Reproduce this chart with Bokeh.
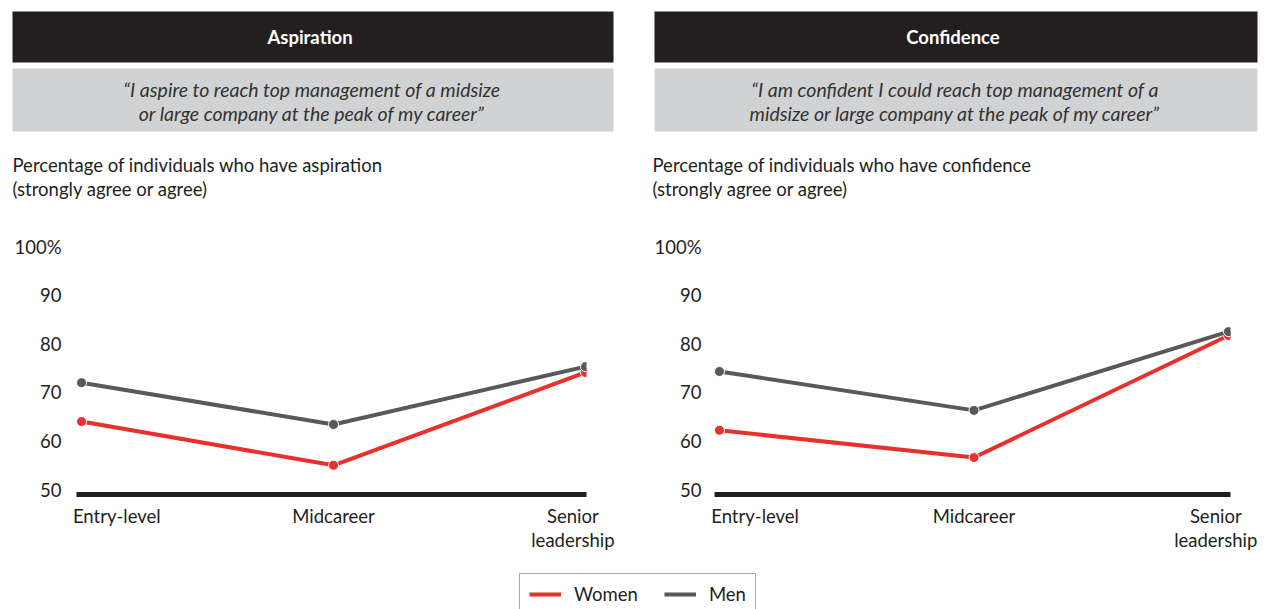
from bokeh.plotting import figure
from bokeh.layouts import column, row
from bokeh.models import Range1d, FixedTicker, Legend, LegendItem
from bokeh.core.properties import value
from bokeh.embed import file_html
from bokeh.resources import INLINE

# ---------------- data ----------------
categories = ["Entry-level", "Midcareer", "Senior\nleadership"]
series_names = ["Women", "Men"]
aspiration_women = [64.0, 55.0, 74.1]
aspiration_men = [72.0, 63.4, 75.3]
confidence_women = [62.2, 56.6, 81.7]
confidence_men = [74.3, 66.3, 82.5]
y_ticks = [50, 60, 70, 80, 90, 100]
y_tick_labels = ["50", "60", "70", "80", "90", "100%"]
panel_titles = ["Aspiration", "Confidence"]
panel_quotes = [
    ["\u201cI aspire to reach top management of a midsize",
     "or large company at the peak of my career\u201d"],
    ["\u201cI am confident I could reach top management of a",
     "midsize or large company at the peak of my career\u201d"],
]
panel_subtitles = [
    ["Percentage of individuals who have aspiration", "(strongly agree or agree)"],
    ["Percentage of individuals who have confidence", "(strongly agree or agree)"],
]

# ---------------- style ----------------
FONT = "Lato"
BLACK = "#231f20"
RED = "#e8302c"
GRAY = "#58595b"
QUOTE_BG = "#d1d2d4"
TXT = "18.5px"
QTXT = "19.5px"

W = 1262
H_HEAD = 220
H_CHART = 352
H_LEG = 37

# ---------------- header strip ----------------
head = figure(width=W, height=H_HEAD, x_range=Range1d(0, W), y_range=Range1d(H_HEAD, 0),
              output_backend="svg", toolbar_location=None, x_axis_type=None, y_axis_type=None,
              min_border=0, outline_line_color=None)
panel_left = [12, 654]
panel_right = [613, 1257]
centers = [(a + b) / 2 for a, b in zip(panel_left, panel_right)]
head.quad(left=panel_left, right=panel_right, top=[11, 11], bottom=[62, 62],
          fill_color=BLACK, line_color=None)
head.quad(left=panel_left, right=panel_right, top=[68, 68], bottom=[131, 131],
          fill_color=QUOTE_BG, line_color=None)
head.text(x=[c - 3 for c in centers], y=[36, 36], text=panel_titles, text_align="center",
          text_baseline="middle", text_color="white", text_font=value(FONT),
          text_font_style="bold", text_font_size=TXT)
qx, qy, qt = [], [], []
for c, lines in zip(centers, panel_quotes):
    for k, ln in enumerate(lines):
        qx.append(c - 1); qy.append(89 + 24 * k); qt.append(ln)
head.text(x=qx, y=qy, text=qt, text_align="center", text_baseline="middle",
          text_color="#333333", text_font=value(FONT), text_font_style="italic",
          text_font_size=QTXT)
sx, sy, st = [], [], []
for lft, lines in zip([12, 652], panel_subtitles):
    for k, ln in enumerate(lines):
        sx.append(lft); sy.append(164 + 24 * k); st.append(ln)
head.text(x=sx, y=sy, text=st, text_align="left", text_baseline="middle",
          text_color=BLACK, text_font=value(FONT), text_font_size=TXT)

# ---------------- charts ----------------
x_pos = list(range(len(categories)))
label_shift = [0.14, 0.0, -0.05]


def make_chart(width, b_left, b_right, x_start, x_end, women, men, y_standoff):
    p = figure(width=width, height=H_CHART, x_range=Range1d(x_start, x_end),
               y_range=Range1d(49.0, 103.3), output_backend="svg", toolbar_location=None,
               min_border_left=b_left, min_border_right=b_right, min_border_top=10,
               min_border_bottom=78, outline_line_color=None)
    p.grid.visible = False
    xa = p.xaxis[0]
    ticks = [i + s for i, s in zip(x_pos, label_shift)]
    xa.ticker = FixedTicker(ticks=ticks)
    xa.major_label_overrides = dict(zip(ticks, categories))
    xa.axis_line_width = 5
    xa.axis_line_color = BLACK
    xa.major_tick_line_color = None
    xa.minor_tick_line_color = None
    xa.major_label_standoff = 4
    xa.major_label_text_font = FONT
    xa.major_label_text_font_size = TXT
    xa.major_label_text_color = BLACK
    xa.major_label_text_line_height = 1.1
    ya = p.yaxis[0]
    ya.ticker = FixedTicker(ticks=y_ticks)
    ya.major_label_overrides = dict(zip(y_ticks, y_tick_labels))
    ya.axis_line_color = None
    ya.major_tick_line_color = None
    ya.minor_tick_line_color = None
    ya.major_label_standoff = y_standoff
    ya.major_label_text_font = FONT
    ya.major_label_text_font_size = TXT
    ya.major_label_text_color = BLACK
    for vals, col in ((women, RED), (men, GRAY)):
        p.line(x_pos, vals, line_color=col, line_width=4)
        p.scatter(x_pos, vals, size=10, fill_color=col, line_color="white", line_width=1)
    return p


f1 = make_chart(648, 76, 62, -0.02, 2.004, aspiration_women, aspiration_men, 9)
f2 = make_chart(614, 66, 32, -0.0196, 2.0079, confidence_women, confidence_men, 7)

# ---------------- legend strip ----------------
leg = figure(width=W, height=H_LEG, x_range=Range1d(-1, 0), y_range=Range1d(0, 1),
             output_backend="svg", toolbar_location=None, x_axis_type=None, y_axis_type=None,
             min_border=0, outline_line_color=None)
# series lines kept outside this strip's visible frame; only their legend swatches show
r_w = leg.line(x_pos, aspiration_women, line_color=RED, line_width=4)
r_m = leg.line(x_pos, aspiration_men, line_color=GRAY, line_width=4)
legend = Legend(items=[LegendItem(label=series_names[0], renderers=[r_w]),
                       LegendItem(label=series_names[1], renderers=[r_m])],
                orientation="horizontal", location=(519, -6),
                border_line_color="#555555", border_line_width=1,
                background_fill_color="white", background_fill_alpha=1,
                padding=9, spacing=26, label_standoff=13, glyph_width=32,
                glyph_height=20, label_height=20, margin=0,
                label_text_font=FONT, label_text_font_size=TXT, label_text_color=BLACK)
leg.add_layout(legend, "center")

layout = column(head, row(f1, f2), leg)
open("out.html", "w").write(file_html(layout, INLINE))
